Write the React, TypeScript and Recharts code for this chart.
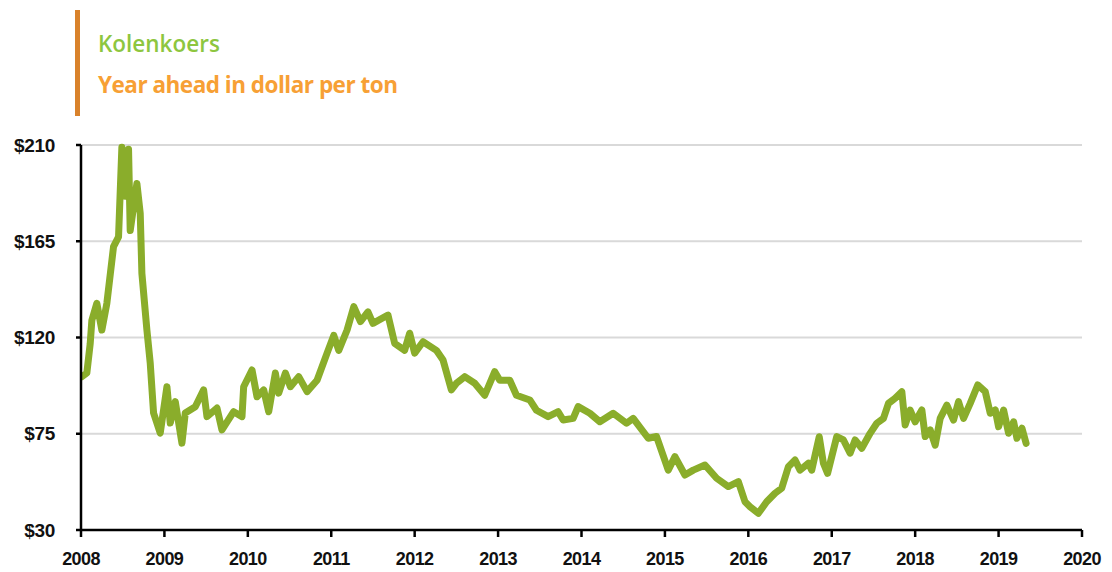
import React from "react";
import { LineChart, Line, XAxis, YAxis, CartesianGrid } from "recharts";

const years = [2008.01, 2008.07, 2008.11, 2008.13, 2008.19, 2008.25, 2008.31, 2008.39, 2008.45, 2008.49, 2008.53, 2008.57, 2008.59, 2008.67, 2008.71, 2008.73, 2008.79, 2008.83, 2008.87, 2008.95, 2009.03, 2009.07, 2009.13, 2009.21, 2009.25, 2009.37, 2009.47, 2009.51, 2009.63, 2009.69, 2009.83, 2009.93, 2009.95, 2010.05, 2010.11, 2010.19, 2010.25, 2010.33, 2010.37, 2010.45, 2010.51, 2010.61, 2010.71, 2010.83, 2010.95, 2011.03, 2011.09, 2011.19, 2011.27, 2011.35, 2011.44, 2011.5, 2011.68, 2011.76, 2011.88, 2011.94, 2012.0, 2012.1, 2012.26, 2012.34, 2012.44, 2012.5, 2012.6, 2012.72, 2012.84, 2012.96, 2013.02, 2013.14, 2013.22, 2013.38, 2013.46, 2013.6, 2013.72, 2013.78, 2013.9, 2013.96, 2014.1, 2014.22, 2014.38, 2014.54, 2014.62, 2014.8, 2014.9, 2015.04, 2015.12, 2015.24, 2015.34, 2015.48, 2015.62, 2015.76, 2015.88, 2015.96, 2016.02, 2016.12, 2016.22, 2016.32, 2016.4, 2016.48, 2016.56, 2016.62, 2016.72, 2016.76, 2016.85, 2016.9, 2016.95, 2017.06, 2017.14, 2017.22, 2017.28, 2017.36, 2017.46, 2017.54, 2017.62, 2017.68, 2017.76, 2017.84, 2017.88, 2017.94, 2018.0, 2018.08, 2018.12, 2018.18, 2018.24, 2018.3, 2018.38, 2018.46, 2018.52, 2018.58, 2018.66, 2018.75, 2018.84, 2018.9, 2018.96, 2019.0, 2019.06, 2019.12, 2019.18, 2019.22, 2019.28, 2019.33];

const prices = [101.7, 103.4, 117, 128, 136, 123.5, 136, 162.5, 167, 209, 186, 208, 170, 192, 178, 150, 123.5, 108, 84.7, 75.3, 97, 80, 90, 70.6, 84.7, 87.6, 95.5, 83, 87, 76.8, 85.3, 83, 97, 104.8, 92.3, 95.5, 85.3, 103.4, 94, 103.4, 97, 101.7, 94.7, 100, 112.7, 121, 114, 123.5, 134.4, 127.4, 132, 126.6, 130.5, 117.3, 114, 122, 112.7, 118, 114, 109.5, 95.5, 98.6, 101.7, 98.6, 93, 104, 100, 100, 93, 90.8, 86, 83, 85.3, 81.4, 82.2, 87.7, 84.6, 80.6, 84.6, 79.9, 82.2, 72.9, 73.7, 58, 64.3, 55.7, 58, 60.4, 54.2, 50.3, 52.6, 43.2, 40.9, 37.8, 43.2, 47.2, 49.5, 59.6, 62.7, 58, 61.2, 58, 73.6, 61.2, 56.5, 73.7, 72.1, 65.9, 72.1, 68.2, 75.2, 79.9, 82.2, 89.2, 91.6, 94.7, 79.1, 86.1, 80.6, 86.1, 73.7, 76.8, 69.7, 82.2, 88.4, 81.4, 90, 82.2, 89.2, 97.8, 94.7, 84.6, 86.1, 78.3, 86.1, 75.2, 80.6, 72.9, 77.6, 70.5];

const xTicks = [2008, 2009, 2010, 2011, 2012, 2013, 2014, 2015, 2016, 2017, 2018, 2019, 2020];
const yTicks = [30, 75, 120, 165, 210];

const titleLine1 = "Kolenkoers";
const titleLine2 = "Year ahead in dollar per ton";

const data = years.map((t, i) => ({ t, price: prices[i] }));

const labelFont = "'Liberation Sans', Arial, sans-serif";

export default function App() {
  return (
    <div style={{ position: "fixed", left: 0, top: 0, width: 1112, height: 572, background: "#fff" }}>
      <div style={{ position: "absolute", left: 75, top: 10, width: 5, height: 106, background: "#D9822B" }} />
      <div
        style={{
          position: "absolute",
          left: 98,
          top: 29,
          fontFamily: "'Open Sans', 'Liberation Sans', sans-serif",
          fontSize: 22.5,
          color: "#8DC63F",
          fontWeight: 600,
          letterSpacing: 0,
          lineHeight: "30px",
          whiteSpace: "nowrap",
        }}
      >
        {titleLine1}
      </div>
      <div
        style={{
          position: "absolute",
          left: 98,
          top: 70,
          fontFamily: "'Open Sans', 'Liberation Sans', sans-serif",
          fontSize: 22.5,
          color: "#F7A035",
          fontWeight: 700,
          letterSpacing: -0.5,
          lineHeight: "30px",
          whiteSpace: "nowrap",
        }}
      >
        {titleLine2}
      </div>
      <div style={{ position: "absolute", left: 0, top: 0 }}>
        <LineChart width={1112} height={572} data={data} margin={{ top: 145, right: 30, bottom: 12, left: 21 }}>
          <CartesianGrid vertical={false} stroke="#d9d9d9" strokeWidth={2} />
          <XAxis
            dataKey="t"
            type="number"
            domain={[2008, 2020]}
            ticks={xTicks}
            interval={0}
            allowDataOverflow
            height={30}
            axisLine={{ stroke: "#000", strokeWidth: 2.5 }}
            tickLine={{ stroke: "#000", strokeWidth: 2.5 }}
            tickSize={7}
            tickMargin={15}
            tick={{ fill: "#111", fontSize: 18, fontWeight: 700, fontFamily: labelFont, letterSpacing: -0.6 }}
          />
          <YAxis
            type="number"
            domain={[30, 210]}
            ticks={yTicks}
            interval={0}
            width={60}
            axisLine={{ stroke: "#000", strokeWidth: 2.5 }}
            tickLine={{ stroke: "#000", strokeWidth: 2.5 }}
            tickSize={5}
            tickMargin={21}
            tickFormatter={(v: number) => `$${v}`}
            tick={{ fill: "#111", fontSize: 19, fontWeight: 700, fontFamily: labelFont, letterSpacing: -0.3 }}
          />
          <Line
            type="linear"
            dataKey="price"
            stroke="#8AAD2B"
            strokeWidth={7}
            strokeLinejoin="round"
            strokeLinecap="round"
            dot={false}
            activeDot={false}
            isAnimationActive={false}
          />
        </LineChart>
      </div>
    </div>
  );
}
